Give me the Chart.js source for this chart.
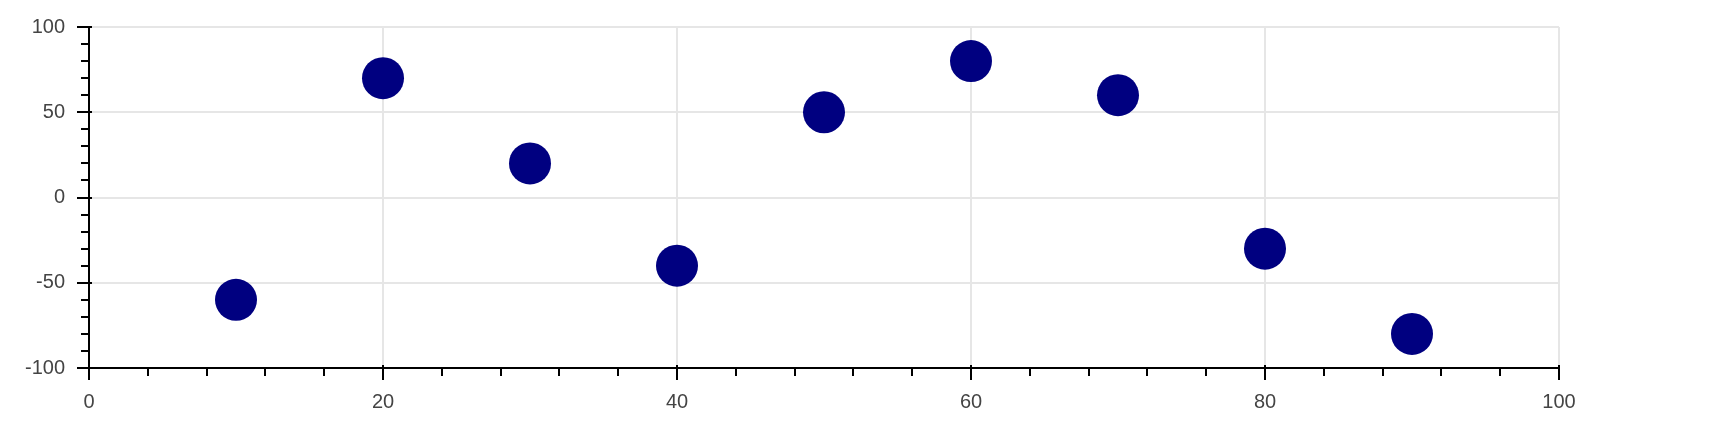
<!DOCTYPE html>
<html>
<head>
<meta charset="utf-8">
<script src="https://cdn.jsdelivr.net/npm/chart.js@4/dist/chart.umd.min.js"></script>
<style>
  html, body { margin: 0; padding: 0; background: #fff; }
  #wrap { width: 1734px; height: 446px; }
</style>
</head>
<body>
<div id="wrap"><canvas id="scatter" width="1734" height="446"></canvas></div>
<script>
'use strict';

// データ
var xValues = [10, 20, 30, 40, 50, 60, 70, 80, 90];
var yValues = [-60, 70, 20, -40, 50, 80, 60, -30, -80];
var xTicks = [0, 20, 40, 60, 80, 100];
var yTicks = [-100, -50, 0, 50, 100];
var xMinorStep = 4;
var yMinorStep = 10;

var points = xValues.map(function(x, i) {
    return { x: x, y: yValues[i] };
});

// 軸線と目盛り（大・小）を描く
var axisTickPlugin = {
    id: 'axisTicks',
    afterDatasetsDraw: function(chart) {
        var ctx = chart.ctx;
        var area = chart.chartArea;
        var xs = chart.scales.x;
        var ys = chart.scales.y;
        ctx.save();
        ctx.strokeStyle = '#000';
        ctx.lineWidth = 2;
        ctx.beginPath();
        // 軸線
        ctx.moveTo(area.left, area.top - 1);
        ctx.lineTo(area.left, area.bottom);
        ctx.lineTo(area.right, area.bottom);
        // x 目盛り
        for (var v = xs.min; v <= xs.max + 0.001; v += xMinorStep) {
            var px = Math.round(xs.getPixelForValue(v));
            var major = xTicks.indexOf(v) >= 0;
            ctx.moveTo(px, area.bottom - (major ? 3 : 0));
            ctx.lineTo(px, area.bottom + (major ? 12 : 8));
        }
        // y 目盛り
        for (var w = ys.min; w <= ys.max + 0.001; w += yMinorStep) {
            var py = Math.round(ys.getPixelForValue(w));
            var majorY = yTicks.indexOf(w) >= 0;
            ctx.moveTo(area.left + (majorY ? 3 : 0), py);
            ctx.lineTo(area.left - (majorY ? 12 : 8), py);
        }
        ctx.stroke();
        ctx.restore();
    }
};

var ctx = document.getElementById('scatter').getContext('2d');
var chart = new Chart(ctx, {
    type: 'scatter',
    data: {
        datasets: [{
            data: points,
            backgroundColor: '#000080',
            borderWidth: 0,
            pointRadius: 21,
            pointHoverRadius: 21
        }]
    },
    options: {
        responsive: false,
        animation: false,
        layout: {
            padding: { top: 27, right: 175, left: 0, bottom: 0 }
        },
        plugins: {
            legend: { display: false },
            tooltip: { enabled: false }
        },
        scales: {
            x: {
                type: 'linear',
                min: 0,
                max: 100,
                afterBuildTicks: function(scale) {
                    scale.ticks = xTicks.map(function(v) { return { value: v }; });
                },
                afterFit: function(scale) { scale.height = 78; },
                // 目盛り線は透明にして、ラベルとの間隔だけに使う
                grid: { color: '#e6e6e6', lineWidth: 2, drawTicks: true, tickLength: 22, tickColor: 'rgba(0,0,0,0)' },
                border: { display: false },
                ticks: {
                    padding: 0,
                    color: '#444',
                    maxRotation: 0,
                    autoSkip: false,
                    font: { family: 'Liberation Sans', size: 20 }
                }
            },
            y: {
                type: 'linear',
                min: -100,
                max: 100,
                afterBuildTicks: function(scale) {
                    scale.ticks = yTicks.map(function(v) { return { value: v }; });
                },
                afterFit: function(scale) { scale.width = 89; },
                grid: { color: '#e6e6e6', lineWidth: 2, drawTicks: true, tickLength: 24, tickColor: 'rgba(0,0,0,0)' },
                border: { display: false },
                ticks: {
                    padding: 0,
                    color: '#444',
                    autoSkip: false,
                    font: { family: 'Liberation Sans', size: 20 }
                }
            }
        }
    },
    plugins: [axisTickPlugin]
});
</script>
</body>
</html>
